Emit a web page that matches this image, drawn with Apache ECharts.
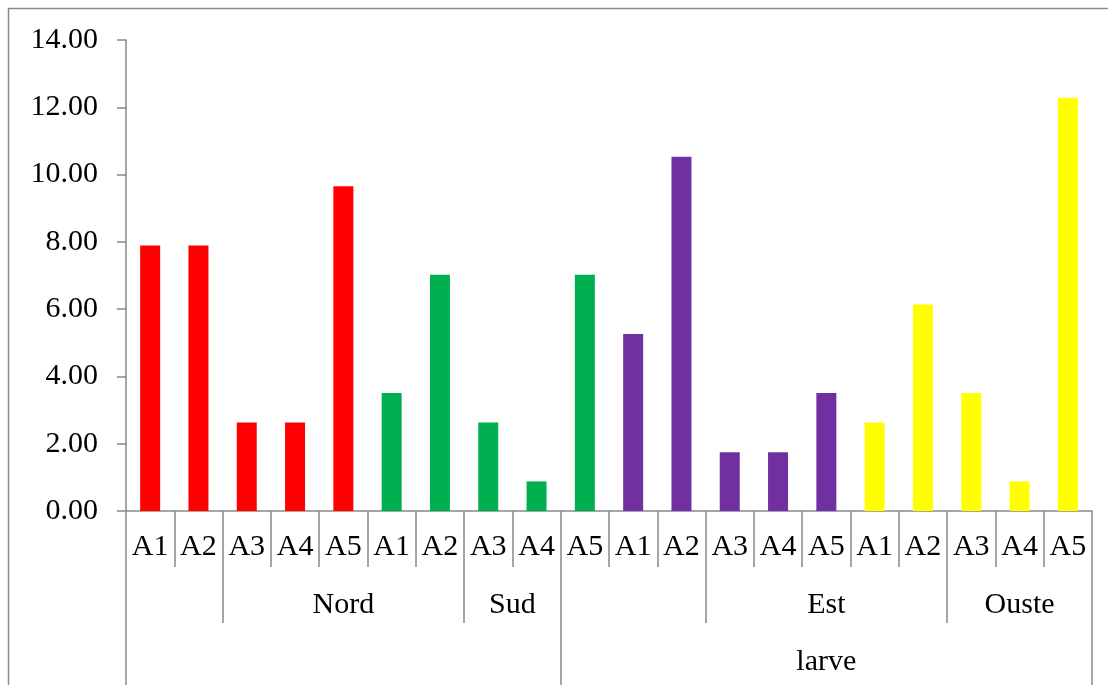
<!DOCTYPE html>
<html>
<head>
<meta charset="utf-8">
<script src="https://cdn.jsdelivr.net/npm/echarts@6/dist/echarts.min.js"></script>
<style>html,body{margin:0;padding:0;background:#fff}#c{width:1108px;height:685px}</style>
</head>
<body>
<div id="c"></div>
<script>
// ---- data ----
var categories = ['A1','A2','A3','A4','A5','A1','A2','A3','A4','A5','A1','A2','A3','A4','A5','A1','A2','A3','A4','A5'];
var redValues = [7.89, 7.89, 2.63, 2.63, 9.65];
var greenValues = [3.51, 7.02, 2.63, 0.88, 7.02];
var purpleValues = [5.26, 10.53, 1.75, 1.75, 3.51];
var yellowValues = [2.63, 6.14, 3.51, 0.88, 12.28];
var groupColors = ['#FF0000', '#00B050', '#7030A0', '#FFFF00'];
// second level labels: [label, startBoundary, endBoundary]
var level2Groups = [['Nord', 2, 7], ['Sud', 7, 9], ['Est', 12, 17], ['Ouste', 17, 20]];
var level2Bounds = [0, 2, 7, 9, 12, 17, 20];
var level3Groups = [['larve', 9, 20]];
var level3Bounds = [0, 9, 20];
var yTicks = [0, 2, 4, 6, 8, 10, 12, 14];

var values = redValues.concat(greenValues, purpleValues, yellowValues);
var n = categories.length;

// half-step axis (positions 0, 0.5, ... n) for group labels/separators
function halfAxisData(groups) {
  var d = [];
  for (var i = 0; i <= 2 * n; i++) d.push('');
  groups.forEach(function (g) { d[g[1] + g[2]] = g[0]; });
  return d;
}
function boundSet(bounds) {
  var s = {};
  bounds.forEach(function (b) { s[2 * b] = true; });
  return s;
}
var b2 = boundSet(level2Bounds), b3 = boundSet(level3Bounds);

var gray = '#898989';
var font = '"Liberation Serif", "Times New Roman", serif';
var fs = 30;

var chart = echarts.init(document.getElementById('c'));
chart.setOption({
  animation: false,
  backgroundColor: '#fff',
  graphic: [{
    type: 'rect', shape: { x: 8.5, y: 8.5, width: 1120, height: 700 },
    style: { fill: 'none', stroke: '#8a8a8a', lineWidth: 1.5 }, silent: true
  }],
  grid: { left: 126, right: 16, top: 40, bottom: 174 },
  xAxis: [{
    type: 'category', data: categories, position: 'bottom',
    axisLine: { lineStyle: { color: gray, width: 1.5 } },
    axisTick: { show: true, length: 56, interval: 0, lineStyle: { color: gray, width: 1.5 } },
    axisLabel: { interval: 0, color: '#000', fontFamily: font, fontSize: fs, margin: 21 }
  }, {
    type: 'category', data: halfAxisData(level2Groups), position: 'bottom', offset: 56,
    boundaryGap: false,
    axisLine: { show: false },
    axisTick: { show: true, length: 56, interval: function (i) { return !!b2[i]; }, lineStyle: { color: gray, width: 1.5 } },
    axisLabel: { interval: 0, color: '#000', fontFamily: font, fontSize: fs, margin: 23 }
  }, {
    type: 'category', data: halfAxisData(level3Groups), position: 'bottom', offset: 112,
    boundaryGap: false,
    axisLine: { show: false },
    axisTick: { show: true, length: 62, interval: function (i) { return !!b3[i]; }, lineStyle: { color: gray, width: 1.5 } },
    axisLabel: { interval: 0, color: '#000', fontFamily: font, fontSize: fs, margin: 24 }
  }],
  yAxis: {
    type: 'value', min: yTicks[0], max: yTicks[yTicks.length - 1], interval: 2,
    splitLine: { show: false },
    axisLine: { show: true, lineStyle: { color: gray, width: 1.5 } },
    axisTick: { show: true, length: 9, lineStyle: { color: gray, width: 1.5 } },
    axisLabel: { color: '#000', fontFamily: font, fontSize: fs, margin: 28,
      formatter: function (v) { return v.toFixed(2); } }
  },
  series: [{
    type: 'bar', xAxisIndex: 0, barWidth: 20,
    data: values,
    itemStyle: { color: function (p) { return groupColors[Math.floor(p.dataIndex / 5)]; } }
  }]
});
</script>
</body>
</html>
